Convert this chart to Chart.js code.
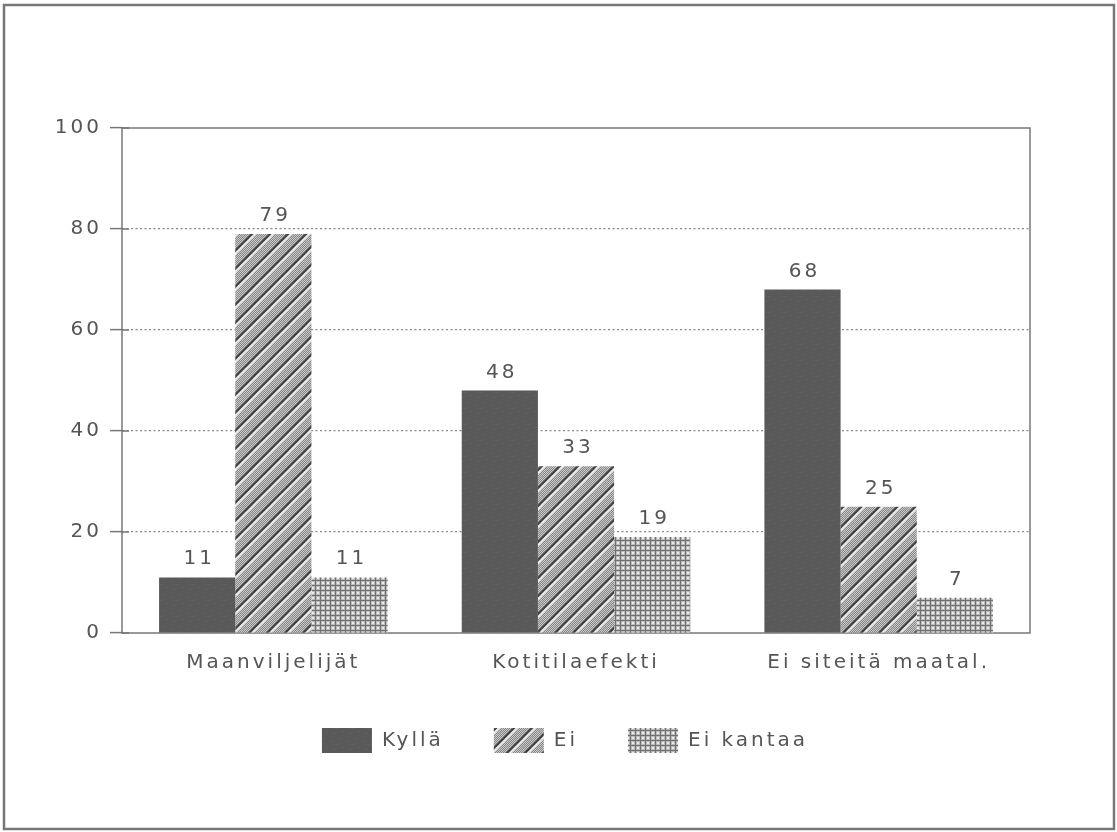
<!DOCTYPE html>
<html>
<head>
<meta charset="utf-8">
<script src="https://cdn.jsdelivr.net/npm/chart.js@4/dist/chart.umd.min.js"></script>
<style>
  html, body { margin: 0; padding: 0; background: #fff; }
  #wrap { width: 1117px; height: 832px; }
</style>
</head>
<body>
<div id="wrap"><canvas id="barChart"></canvas></div>
<script>
const categories = ['Maanviljelijät', 'Kotitilaefekti', 'Ei siteitä maatal.'];
const seriesNames = ['Kyllä', 'Ei', 'Ei kantaa'];
const kyllaValues = [11, 48, 68];
const eiValues = [79, 33, 25];
const eiKantaaValues = [11, 19, 7];
const yTicks = [0, 20, 40, 60, 80, 100];

const INK = '#555';
const FONT = 'DejaVu Sans';
const SPACING = '3px';

function makeTile(w, h, draw) {
  const c = document.createElement('canvas');
  c.width = w; c.height = h;
  draw(c.getContext('2d'), w, h);
  return document.createElement('canvas').getContext('2d').createPattern(c, 'repeat');
}

// dark speckled fill
const kyllaFill = makeTile(16, 16, (g, w, h) => {
  g.fillStyle = '#595959';
  g.fillRect(0, 0, w, h);
  g.fillStyle = '#6c6c6c';
  [[3, 2], [11, 5], [6, 11], [14, 13], [1, 8]].forEach(p => g.fillRect(p[0], p[1], 1, 1));
});

// stipple with diagonal stripes
const eiFill = makeTile(18, 18, (g, w, h) => {
  for (let y = 0; y < h; y++) {
    for (let x = 0; x < w; x++) {
      g.fillStyle = (x + y) % 2 ? '#888' : '#c8c8c8';
      g.fillRect(x, y, 1, 1);
    }
  }
  g.lineCap = 'square';
  for (const off of [-18, 0, 18]) {
    g.strokeStyle = '#eee';
    g.lineWidth = 2;
    g.beginPath(); g.moveTo(off + 3, h); g.lineTo(off + w + 3, 0); g.stroke();
    g.strokeStyle = '#404040';
    g.lineWidth = 2;
    g.beginPath(); g.moveTo(off, h); g.lineTo(off + w, 0); g.stroke();
  }
});

// crosshatch grid
const eiKantaaFill = makeTile(5, 5, (g, w, h) => {
  g.fillStyle = '#bcbcbc';
  g.fillRect(0, 0, w, h);
  g.fillStyle = '#707070';
  g.fillRect(0, 0, w, 1);
  g.fillRect(0, 0, 1, h);
  g.fillStyle = '#eaeaea';
  g.fillRect(2, 2, 2, 2);
});

const spacing = {
  id: 'spacing',
  beforeUpdate(chart) { chart.ctx.letterSpacing = SPACING; },
  beforeDraw(chart) { chart.ctx.letterSpacing = SPACING; }
};

// move the legend so it sits centred on the page like the original
const legendShift = {
  id: 'legendShift',
  afterLayout(chart) {
    const lg = chart.legend;
    if (!lg) return;
    lg.left += 50;
    lg.right += 50;
  }
};

const frame = {
  id: 'frame',
  beforeDatasetsDraw(chart) {
    const { ctx, chartArea: a } = chart;
    const y = chart.scales.y;
    ctx.save();
    ctx.strokeStyle = '#777';
    ctx.lineWidth = 1.5;
    ctx.strokeRect(a.left, a.top, a.right - a.left, a.bottom - a.top);
    ctx.beginPath();
    yTicks.forEach(v => {
      const py = y.getPixelForValue(v);
      ctx.moveTo(a.left, py);
      ctx.lineTo(a.left + 7, py);
    });
    ctx.stroke();
    ctx.restore();
  },
  afterDraw(chart) {
    const ctx = chart.ctx;
    ctx.save();
    ctx.strokeStyle = '#777';
    ctx.lineWidth = 2.5;
    ctx.strokeRect(4, 5, 1110, 824);
    ctx.restore();
  }
};

const valueLabels = {
  id: 'valueLabels',
  afterDatasetsDraw(chart) {
    const ctx = chart.ctx;
    ctx.save();
    ctx.letterSpacing = SPACING;
    ctx.font = '20px "' + FONT + '"';
    ctx.fillStyle = INK;
    ctx.textAlign = 'center';
    ctx.textBaseline = 'alphabetic';
    chart.data.datasets.forEach((ds, i) => {
      chart.getDatasetMeta(i).data.forEach((bar, j) => {
        ctx.fillText(String(ds.data[j]), bar.x + 2, bar.y - 13);
      });
    });
    ctx.restore();
  }
};

new Chart(document.getElementById('barChart'), {
  type: 'bar',
  data: {
    labels: categories,
    datasets: [
      { label: seriesNames[0], data: kyllaValues, backgroundColor: kyllaFill },
      { label: seriesNames[1], data: eiValues, backgroundColor: eiFill },
      { label: seriesNames[2], data: eiKantaaValues, backgroundColor: eiKantaaFill }
    ]
  },
  options: {
    responsive: true,
    maintainAspectRatio: false,
    animation: false,
    layout: { padding: { top: 128, right: 87, left: 0, bottom: 69 } },
    datasets: { bar: { categoryPercentage: 0.755, barPercentage: 1 } },
    plugins: {
      legend: {
        position: 'bottom',
        labels: {
          boxWidth: 50,
          boxHeight: 25,
          padding: 50,
          color: INK,
          font: { family: FONT, size: 20 }
        }
      },
      tooltip: { enabled: false }
    },
    scales: {
      x: {
        grid: { display: false, drawTicks: false },
        border: { display: false },
        ticks: { color: INK, padding: 18, font: { family: FONT, size: 20 } },
        afterFit(scale) { scale.height = 45; }
      },
      y: {
        min: 0,
        max: 100,
        afterBuildTicks(scale) { scale.ticks = yTicks.map(v => ({ value: v })); },
        grid: {
          color: ctx => (ctx.tick && (ctx.tick.value === 0 || ctx.tick.value === 100)) ? 'transparent' : '#888',
          lineWidth: 1.2,
          tickColor: '#777',
          tickLength: 12,
          tickWidth: 1.5,
          tickBorderDash: []
        },
        border: { display: false, dash: [2, 2.5] },
        ticks: { color: INK, padding: 8, font: { family: FONT, size: 20 } },
        afterFit(scale) { scale.width = 122; }
      }
    }
  },
  plugins: [spacing, legendShift, frame, valueLabels]
});
</script>
</body>
</html>
